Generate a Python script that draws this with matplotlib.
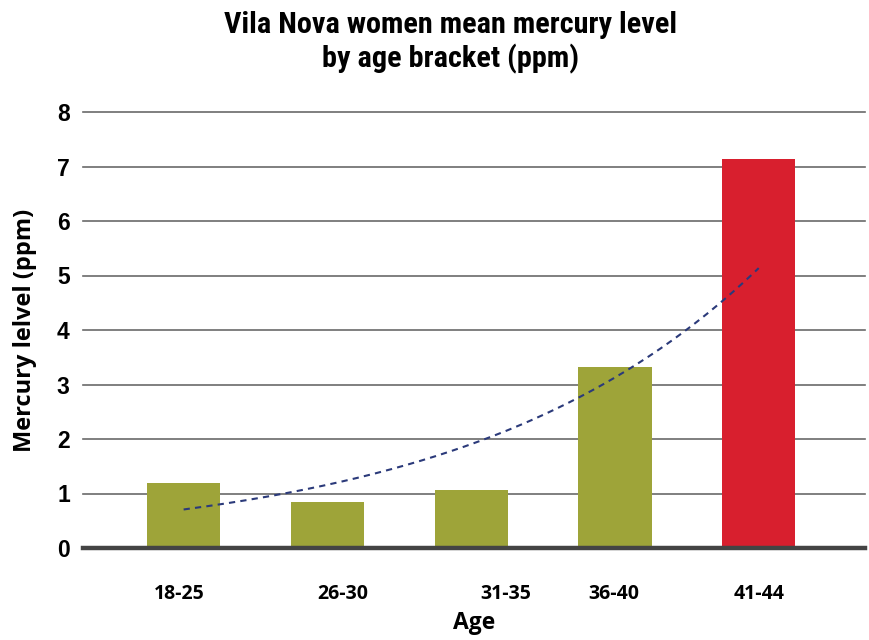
import numpy as np
import matplotlib
matplotlib.use("Agg")
import matplotlib.pyplot as plt
from matplotlib.transforms import ScaledTranslation

# Mean mercury level by age bracket
age_brackets = ["18-25", "26-30", "31-35", "36-40", "41-44"]
mercury_ppm = [1.19, 0.84, 1.06, 3.32, 7.14]
y_ticks = [0, 1, 2, 3, 4, 5, 6, 7, 8]

olive = "#9EA439"
red = "#D81F2E"
trend_color = "#2B3A7A"

fig = plt.figure(figsize=(8.69, 6.40), dpi=100)
ax = fig.add_axes([0.0955, 0.14375, 0.9, 0.68125])

x = np.arange(len(age_brackets))
colors = [olive] * (len(age_brackets) - 1) + [red]
ax.bar(x, mercury_ppm, width=0.51, color=colors, zorder=3)

# Exponential trendline fitted to the bar values
slope, intercept = np.polyfit(x, np.log(mercury_ppm), 1)
xs = np.linspace(x[0], x[-1], 200)
ax.plot(xs, np.exp(intercept + slope * xs), linestyle=(0, (3, 2.5)),
        color=trend_color, linewidth=1.5, zorder=4)

ax.set_xlim(-0.7, 4.74)
ax.set_ylim(0, 8)

for t in y_ticks[1:]:
    ax.axhline(t, color="#6a6a6a", linewidth=1.2, zorder=1, clip_on=False)
ax.axhline(0, color="#444444", linewidth=3.2, zorder=5, clip_on=False)

for s in ax.spines.values():
    s.set_visible(False)

ax.set_yticks(y_ticks)
ax.set_yticklabels([str(t) for t in y_ticks], family="Liberation Sans",
                   fontweight="bold", fontsize=16.5)
ax.tick_params(axis="y", length=0, pad=9.5)

ax.set_xticks(x)
ax.set_xticklabels(age_brackets, family="Open Sans", fontweight="bold",
                   fontsize=14)
ax.tick_params(axis="x", length=0, pad=26)
label_shift_px = [-4, 15, 35, -1, 0]
for lab, dx in zip(ax.get_xticklabels(), label_shift_px):
    lab.set_transform(lab.get_transform() +
                      ScaledTranslation(dx / 100, 0, fig.dpi_scale_trans))

ax.set_xlabel("Age", family="Open Sans", fontweight="bold", fontsize=16.5,
              labelpad=5)
ax.set_ylabel("Mercury lelvel (ppm)", family="Open Sans", fontweight="bold",
              fontsize=17, labelpad=14)

fig.text(0.518, 0.934, "Vila Nova women mean mercury level\nby age bracket (ppm)",
         ha="center", va="center", family="Roboto Condensed",
         fontweight="bold", fontsize=21.8, linespacing=1.22)

fig.savefig("out.png", dpi=100)
